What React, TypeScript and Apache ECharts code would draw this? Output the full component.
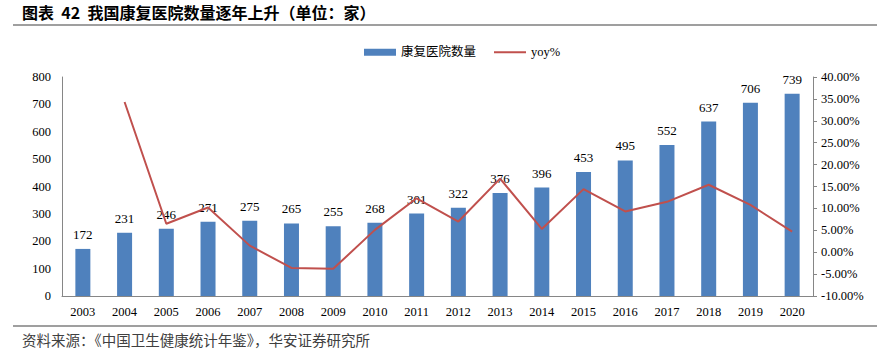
import React, { useEffect, useRef } from "react";
import * as echarts from "echarts";

const years = ["2003","2004","2005","2006","2007","2008","2009","2010","2011","2012","2013","2014","2015","2016","2017","2018","2019","2020"];
const hospitals = [172,231,246,271,275,265,255,268,301,322,376,396,453,495,552,637,706,739];
const yoy: (number | null)[] = [null,34.3,6.5,10.2,1.5,-3.6,-3.8,5.1,12.3,7.0,16.8,5.3,14.4,9.3,11.5,15.4,10.8,4.7];

const title = "图表  42  我国康复医院数量逐年上升（单位：家）";
const source = "资料来源：《中国卫生健康统计年鉴》，华安证券研究所";

const serif = "'Liberation Serif', 'DejaVu Serif', serif";
const cjk = "'Liberation Serif', 'Noto Sans CJK SC', serif";

export default function App() {
  const ref = useRef<HTMLDivElement>(null);
  useEffect(() => {
    if (!ref.current) return;
    const chart = echarts.init(ref.current, null, { renderer: "svg" });
    chart.setOption({
      animation: false,
      backgroundColor: "#fff",
      graphic: [
        { type: "text", left: 22, top: 4, style: { text: title, font: "bold 16px 'Noto Sans CJK SC'", fill: "#000" } },
        { type: "line", shape: { x1: 13, y1: 25, x2: 877, y2: 25 }, style: { stroke: "#7f7f7f", lineWidth: 1.5 } },
        { type: "line", shape: { x1: 13, y1: 326, x2: 877, y2: 326 }, style: { stroke: "#7f7f7f", lineWidth: 1.5 } },
        { type: "text", left: 22, top: 332, style: { text: source, font: "14.5px 'Noto Sans CJK SC'", fill: "#404040" } },
      ],
      legend: {
        left: 359, top: 41, itemGap: 17, itemWidth: 32, itemHeight: 7,
        textStyle: { fontFamily: cjk, fontSize: 12.5, color: "#000" },
        data: [
          { name: "康复医院数量", icon: "rect" },
          { name: "yoy%", itemStyle: { opacity: 0 } },
        ],
      },
      grid: { left: 62, right: 64, top: 77, bottom: 66 },
      xAxis: {
        type: "category", data: years,
        axisLine: { lineStyle: { color: "#868686" } },
        axisTick: { show: false },
        axisLabel: { color: "#000", fontFamily: serif, fontSize: 12.5, margin: 9 },
      },
      yAxis: [
        {
          type: "value", min: 0, max: 800, interval: 100,
          axisLine: { show: true, lineStyle: { color: "#868686" } },
          axisTick: { show: false },
          splitLine: { show: false },
          axisLabel: { color: "#000", fontFamily: serif, fontSize: 12.5, margin: 11 },
        },
        {
          type: "value", min: -10, max: 40, interval: 5,
          axisLine: { show: true, lineStyle: { color: "#868686" } },
          axisTick: { show: true, length: 4, lineStyle: { color: "#868686" } },
          splitLine: { show: false },
          axisLabel: { color: "#000", fontFamily: serif, fontSize: 12.5, margin: 8, formatter: (v: number) => v.toFixed(2) + "%" },
        },
      ],
      series: [
        {
          name: "康复医院数量", type: "bar", data: hospitals, barWidth: 15,
          itemStyle: { color: "#4F81BD" },
          label: { show: true, position: "top", distance: 8, color: "#000", fontFamily: serif, fontSize: 13 },
        },
        {
          name: "yoy%", type: "line", yAxisIndex: 1, data: yoy, symbol: "none",
          lineStyle: { color: "#C0504D", width: 2 }, itemStyle: { color: "#C0504D" },
        },
      ],
    });
    return () => chart.dispose();
  }, []);
  return <div ref={ref} style={{ width: 877, height: 362, position: "absolute", left: 0, top: 0 }} />;
}
